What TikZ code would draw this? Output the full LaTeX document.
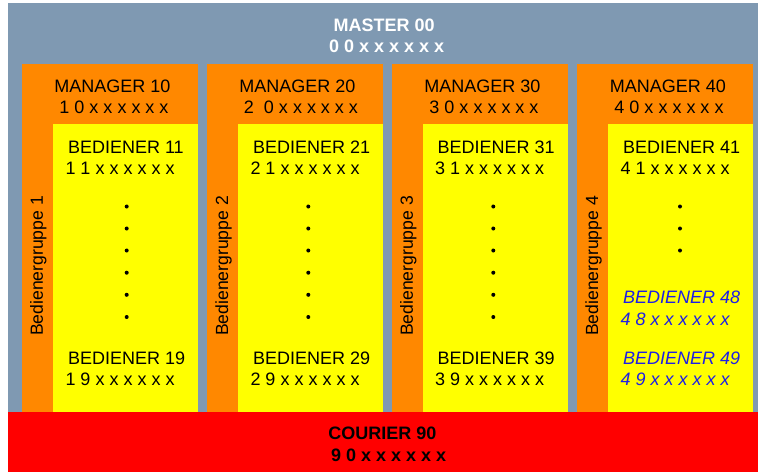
\documentclass[tikz,border=0pt]{standalone}
\usepackage{fontspec}
\setmainfont{Liberation Sans}
\definecolor{mastercol}{RGB}{127,153,178}
\definecolor{mgrcol}{RGB}{255,136,0}
\definecolor{opcol}{RGB}{255,255,0}
\definecolor{courcol}{RGB}{255,0,0}
\definecolor{itcol}{RGB}{30,30,230}
\begin{document}
\begin{tikzpicture}[x=1pt,y=-1pt,
  txt/.style={inner sep=0pt, font=\fontsize{18}{21}\selectfont, anchor=base},
  ltxt/.style={txt, anchor=base west},
  btxt/.style={txt, font=\fontsize{18}{21}\selectfont\bfseries},
  ittxt/.style={ltxt, text=itcol, font=\fontsize{18}{21}\selectfont\itshape},
  grp/.style={inner sep=0pt, font=\fontsize{17.6}{21}\selectfont, rotate=90, anchor=center},
  dot/.style={circle, fill=black, inner sep=0pt, minimum size=4pt}]
\useasboundingbox (0,0) rectangle (758,472);
% master and courier areas
\fill[mastercol] (8,3) rectangle (758,412);
\fill[courcol] (8,412) rectangle (758,472);
% manager groups
\foreach \xl in {22,207.3,392,577.3}{
  \fill[mgrcol] (\xl,64) rectangle ({\xl+175.7},412);
  \fill[opcol] ({\xl+31},124) rectangle ({\xl+175.7},412);
}
% master
\node[btxt, text=white] (master) at (384.2,31.7) {MASTER 00};
\node[btxt, text=white] (mastern) at (386.7,52.5) {0 0 x x x x x x};
% courier
\node[btxt] (courier) at (382.5,439) {COURIER 90};
\node[btxt] (couriern) at (388.7,461) {9 0 x x x x x x};
% managers
\node[txt] (m1) at (112.5,92) {MANAGER 10};
\node[txt] (m1n) at (114,113) {1 0 x x x x x x};
\node[txt] (m2) at (297.5,92) {MANAGER 20};
\node[txt] (m2n) at (301,113) {2\ \ 0 x x x x x x};
\node[txt] (m3) at (482.5,92) {MANAGER 30};
\node[txt] (m3n) at (484,113) {3 0 x x x x x x};
\node[txt] (m4) at (667.8,92) {MANAGER 40};
\node[txt] (m4n) at (669,113) {4 0 x x x x x x};
% group labels
\node[grp] (g1) at (38.3,266) {Bedienergruppe 1};
\node[grp] (g2) at (223.6,266) {Bedienergruppe 2};
\node[grp] (g3) at (408.3,266) {Bedienergruppe 3};
\node[grp] (g4) at (593.6,266) {Bedienergruppe 4};
% group 1
\node[ltxt] (b11) at (67.8,153) {BEDIENER 11};
\node[ltxt] (b11n) at (65.3,174) {1 1 x x x x x x};
\node[ltxt] (b19) at (67.8,364) {BEDIENER 19};
\node[ltxt] (b19n) at (65.3,385) {1 9 x x x x x x};
% group 2
\node[ltxt] (b21) at (252.8,153) {BEDIENER 21};
\node[ltxt] (b21n) at (250.3,174) {2 1 x x x x x x};
\node[ltxt] (b29) at (252.8,364) {BEDIENER 29};
\node[ltxt] (b29n) at (250.3,385) {2 9 x x x x x x};
% group 3
\node[ltxt] (b31) at (437.5,153) {BEDIENER 31};
\node[ltxt] (b31n) at (435,174) {3 1 x x x x x x};
\node[ltxt] (b39) at (437.5,364) {BEDIENER 39};
\node[ltxt] (b39n) at (435,385) {3 9 x x x x x x};
% group 4
\node[ltxt] (b41) at (622.8,153) {BEDIENER 41};
\node[ltxt] (b41n) at (620.3,174) {4 1 x x x x x x};
\node[ittxt] (b48) at (622.8,303) {BEDIENER 48};
\node[ittxt] (b48n) at (620.3,325) {4 8 x x x x x x};
\node[ittxt] (b49) at (622.8,364) {BEDIENER 49};
\node[ittxt] (b49n) at (620.3,385) {4 9 x x x x x x};
% dots
\foreach \dx/\g in {126.7/1,308.3/2,493.3/3}{
  \foreach \dy [count=\k] in {206.5,228.5,250.5,272.7,294.8,317}{
    \node[dot] (dot\g\k) at (\dx,\dy) {};
  }
}
\foreach \dy [count=\k] in {206.5,228.5,250.5}{
  \node[dot] (dot4\k) at (680,\dy) {};
}
\end{tikzpicture}
\end{document}
